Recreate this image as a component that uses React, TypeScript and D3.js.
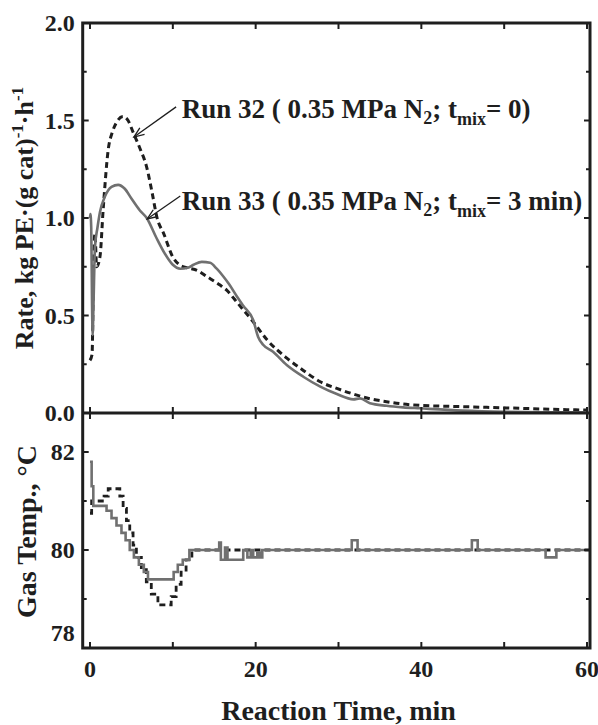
import React from "react";
import * as d3 from "d3";

// ---- Data ----
// Top panel: polymerization rate, kg PE/(g cat)/h vs reaction time, min
const run33Time = [0, 0.05, 0.15, 0.25, 0.32, 0.42, 0.6, 0.9, 1.2, 1.8, 2.6, 3.4, 4.2, 5.0, 6.0, 6.85, 8.0, 9.0, 10.0, 10.9, 11.8, 12.5, 13.5, 14.5, 15.3, 16.1, 16.8, 17.7, 18.5, 19.7, 20.3, 20.9, 22.1, 23.75, 25.75, 27.8, 29.8, 31.8, 32.6, 33.8, 35.8, 37.8, 39.8, 45, 50, 55, 60];
const run33Rate = [1.0, 1.02, 0.95, 0.55, 0.4, 0.55, 0.85, 0.95, 1.03, 1.11, 1.16, 1.17, 1.15, 1.1, 1.04, 1.0, 0.9, 0.82, 0.76, 0.74, 0.745, 0.76, 0.775, 0.77, 0.74, 0.7, 0.66, 0.6, 0.55, 0.477, 0.39, 0.35, 0.314, 0.246, 0.186, 0.135, 0.097, 0.07, 0.075, 0.05, 0.037, 0.029, 0.024, 0.012, 0.006, 0.004, 0.003];

const run32Time = [0, 0.25, 0.45, 0.6, 0.8, 1.2, 1.6, 2.2, 2.7, 3.2, 4.0, 4.6, 5.2, 6.0, 6.85, 7.5, 8.1, 8.9, 10.0, 10.8, 11.7, 13.0, 14.1, 15.7, 16.5, 17.7, 19.7, 21.4, 23.8, 25.8, 27.8, 29.8, 31.8, 33.8, 35.8, 37.8, 39.8, 43.8, 47.9, 51.9, 55.9, 60];
const run32Rate = [0.27, 0.3, 0.8, 0.92, 0.75, 0.8, 1.05, 1.35, 1.44, 1.49, 1.52, 1.5, 1.44, 1.36, 1.26, 1.13, 1.0, 0.92, 0.8, 0.76, 0.745, 0.73, 0.7, 0.656, 0.63, 0.57, 0.468, 0.374, 0.28, 0.217, 0.16, 0.126, 0.097, 0.073, 0.058, 0.046, 0.039, 0.034, 0.029, 0.024, 0.019, 0.015];

// Bottom panel: gas temperature, °C (step data)
const run33TempTime = [0, 0.2, 0.4, 2.0, 2.6, 3.2, 3.8, 4.3, 4.8, 5.3, 5.9, 6.5, 7.0, 10.1, 10.6, 11.2, 12.0, 15.6, 15.8, 16.3, 16.6, 18.5, 19.0, 19.4, 19.7, 20.2, 20.5, 20.8, 31.6, 32.3, 46.1, 46.8, 55.0, 56.3, 60.4];
const run33Temp = [81.8, 81.3, 80.9, 80.8, 80.65, 80.5, 80.35, 80.2, 80.0, 79.85, 79.7, 79.55, 79.4, 79.55, 79.7, 79.8, 80.0, 80.15, 79.8, 80.05, 79.8, 80.0, 79.85, 80.0, 79.85, 79.95, 79.85, 80.0, 80.2, 80.0, 80.2, 80.0, 79.85, 80.0, 80.0];

const run32TempTime = [0, 0.2, 1.7, 2.2, 3.6, 4.0, 4.4, 4.8, 5.2, 5.6, 6.2, 6.8, 7.4, 8.2, 9.8, 10.4, 11.0, 11.6, 12.3, 60.4];
const run32Temp = [80.75, 81.0, 81.1, 81.25, 81.1, 80.85, 80.6, 80.35, 80.1, 79.85, 79.6, 79.35, 79.1, 78.88, 79.05, 79.3, 79.55, 79.8, 80.0, 80.0];

// Axes ticks
const timeTicks = [0, 10, 20, 30, 40, 50, 60];
const timeTickLabels = [0, 20, 40, 60];
const rateTicks = [0, 0.25, 0.5, 0.75, 1.0, 1.25, 1.5, 1.75, 2.0];
const rateTickLabels = [0, 0.5, 1.0, 1.5, 2.0];
const tempTicks = [78, 79, 80, 81, 82];
const tempTickLabels = [78, 80, 82];

// Annotations (data units)
const run32Note = { textT: 11.07, textR: 1.513, tail: [10.4, 1.57], tip: [5.3, 1.415], label: "Run 32 ( 0.35 MPa N", tail2: "= 0)" };
const run33Note = { textT: 11.07, textR: 1.041, tail: [10.9, 1.113], tip: [6.9, 0.995], label: "Run 33 ( 0.35 MPa N", tail2: "= 3 min)" };

const FONT = "'Liberation Serif', 'Times New Roman', serif";
const DARK = "#1e1e1e";
const GRAY = "#707070";

export default function App() {
  const W = 598, H = 725;
  const x = d3.scaleLinear().domain([-0.88, 60.36]).range([82.7, 590]);
  const yR = d3.scaleLinear().domain([0, 2.0]).range([413, 23]);
  const yT = d3.scaleLinear().domain([78, 82]).range([648, 452]);

  const lineR = d3.line<[number, number]>().x(d => x(d[0])).y(d => yR(d[1])).curve(d3.curveMonotoneX);
  const lineT = d3.line<[number, number]>().x(d => x(d[0])).y(d => yT(d[1])).curve(d3.curveStepAfter);

  const z = (a: number[], b: number[]) => a.map((v, i) => [v, b[i]] as [number, number]);

  const x0 = x.range()[0], x1 = x.range()[1];
  const topY = yR(2.0), midY = yR(0), botY = yT(78);

  const arrow = (tail: number[], tip: number[]) => {
    const tx = x(tail[0]), ty = yR(tail[1]);
    const hx = x(tip[0]), hy = yR(tip[1]);
    const ang = Math.atan2(ty - hy, tx - hx);
    const L = 11, a = 0.38;
    const p1 = [hx + L * Math.cos(ang + a), hy + L * Math.sin(ang + a)];
    const p2 = [hx + L * Math.cos(ang - a), hy + L * Math.sin(ang - a)];
    return (
      <g stroke={DARK} strokeWidth={1.3} fill="none">
        <line x1={tx} y1={ty} x2={hx} y2={hy} />
        <polyline points={`${p1[0]},${p1[1]} ${hx},${hy} ${p2[0]},${p2[1]}`} />
      </g>
    );
  };

  const note = (n: typeof run32Note) => (
    <text x={x(n.textT)} y={yR(n.textR)} fontFamily={FONT} fontWeight="bold" fontSize={27} fill={DARK}>
      {n.label}
      <tspan fontSize={18} dy={6}>2</tspan>
      <tspan dy={-6}>; t</tspan>
      <tspan fontSize={18} dy={7}>mix</tspan>
      <tspan dy={-7}>{n.tail2}</tspan>
    </text>
  );

  return (
    <svg width={W} height={H} style={{ position: "absolute", left: 0, top: 0, background: "#fff" }}>
      <rect width={W} height={H} fill="#fff" />
      {/* curves top */}
      <path d={lineR(z(run32Time, run32Rate)) || ""} fill="none" stroke={DARK} strokeWidth={3} strokeDasharray="6,4" />
      <path d={lineR(z(run33Time, run33Rate)) || ""} fill="none" stroke={GRAY} strokeWidth={2.6} />
      {/* curves bottom */}
      <path d={lineT(z(run32TempTime, run32Temp)) || ""} fill="none" stroke={DARK} strokeWidth={2.8} strokeDasharray="6,4" />
      <path d={lineT(z(run33TempTime, run33Temp)) || ""} fill="none" stroke={GRAY} strokeWidth={2.6} />

      {/* frames */}
      <g stroke={DARK} fill="none" strokeWidth={3}>
        <rect x={x0} y={topY} width={x1 - x0} height={botY - topY} />
        <line x1={x0} x2={x1} y1={midY} y2={midY} />
      </g>
      {/* ticks */}
      <g stroke={DARK} strokeWidth={2}>
        {timeTicks.map(t => (
          <g key={"tt" + t}>
            <line x1={x(t)} x2={x(t)} y1={topY} y2={topY + 6} />
            <line x1={x(t)} x2={x(t)} y1={midY - 6} y2={midY + 6} />
            <line x1={x(t)} x2={x(t)} y1={botY} y2={botY - 6} />
          </g>
        ))}
        {rateTicks.map(r => {
          const len = rateTickLabels.includes(r) ? 6 : 4;
          return (
            <g key={"rt" + r}>
              <line x1={x0} x2={x0 + len} y1={yR(r)} y2={yR(r)} />
              <line x1={x1} x2={x1 - len} y1={yR(r)} y2={yR(r)} />
            </g>
          );
        })}
        {tempTicks.map(v => {
          const len = tempTickLabels.includes(v) ? 6 : 4;
          return (
            <g key={"tp" + v}>
              <line x1={x0} x2={x0 + len} y1={yT(v)} y2={yT(v)} />
              <line x1={x1} x2={x1 - len} y1={yT(v)} y2={yT(v)} />
            </g>
          );
        })}
      </g>
      {/* tick labels */}
      <g fontFamily={FONT} fontWeight="bold" fontSize={24} fill={DARK}>
        {rateTickLabels.map(r => (
          <text key={"rl" + r} x={x0 - 8} y={yR(r)} dy="0.35em" textAnchor="end">{d3.format(".1f")(r)}</text>
        ))}
        {tempTickLabels.map(v => (
          <text key={"tl" + v} x={x0 - 8} y={v === 78 ? yT(v) - 15 : yT(v)} dy="0.35em" textAnchor="end">{v}</text>
        ))}
        {timeTickLabels.map(t => (
          <text key={"xl" + t} x={x(t)} y={677} textAnchor="middle">{t}</text>
        ))}
      </g>
      {/* axis titles */}
      <text x={(x(0) + x(60)) / 2} y={720} textAnchor="middle" fontFamily={FONT} fontWeight="bold" fontSize={28} fill={DARK}>Reaction Time, min</text>
      <text transform={`translate(33,${yR(1.0)}) rotate(-90)`} textAnchor="middle" fontFamily={FONT} fontWeight="bold" fontSize={26} fill={DARK}>
        Rate, kg PE·(g cat)<tspan fontSize={17} dy={-10}>-1</tspan><tspan dy={10}>·h</tspan><tspan fontSize={17} dy={-10}>-1</tspan>
      </text>
      <text transform={`translate(36,${(yT(78) + 413) / 2 + 1}) rotate(-90)`} textAnchor="middle" fontFamily={FONT} fontWeight="bold" fontSize={28} fill={DARK}>
        Gas Temp., °C
      </text>
      {/* annotations */}
      {note(run32Note)}
      {arrow(run32Note.tail, run32Note.tip)}
      {note(run33Note)}
      {arrow(run33Note.tail, run33Note.tip)}
    </svg>
  );
}
